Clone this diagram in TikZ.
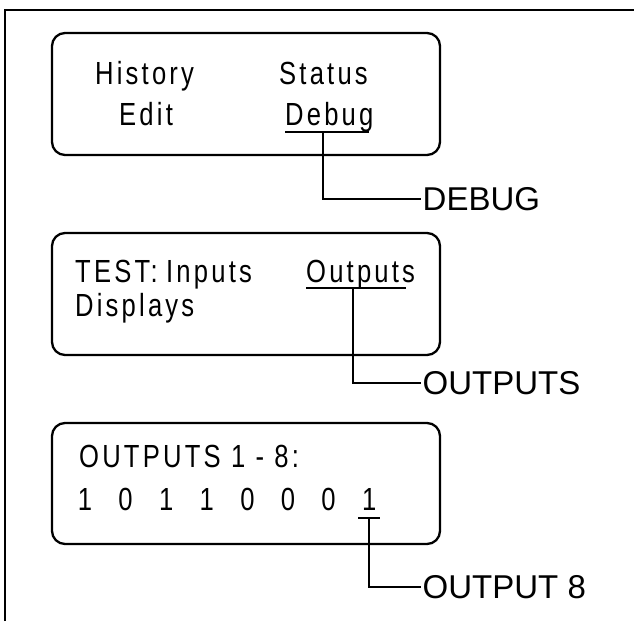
\documentclass[tikz,border=0pt]{standalone}
\usepackage{fontspec}
\setmainfont{Liberation Sans}
\newfontfamily\lcdfont[FakeStretch=0.8,LetterSpace=10]{Liberation Sans}
\begin{document}
\begin{tikzpicture}[x=1pt,y=-1pt,
		lcdbox/.style={draw,line width=2.3pt,rounded corners=13pt},
		lcdtext/.style={anchor=base west,inner sep=0pt,font=\lcdfont\fontsize{32pt}{38pt}\selectfont},
		callout/.style={anchor=west,inner sep=1.5pt,font=\fontsize{33pt}{39pt}\selectfont},
		leader/.style={line width=1.2pt}]
		\useasboundingbox (0,0) rectangle (634,621);
		
		\draw[line width=2.6pt] (5,621) -- (5,10) -- (634,10);
		
		% menu screen
		\draw[lcdbox] (52,33) rectangle (440,155);
		\node[lcdtext] (history) at (95,84) {History};
		\node[lcdtext] (status) at (279,84) {Status};
		\node[lcdtext] (edit) at (119,125) {Edit};
		\node[lcdtext] (debug) at (285,125) {Debug};
		\draw[leader] (285,132) -- (369,132);
		\coordinate (debugtick) at (323,132);
		\node[callout] (debuglabel) at (421,199) {DEBUG};
		\draw[leader] (debugtick) |- (debuglabel.west);
		
		% test screen
		\draw[lcdbox] (52,233) rectangle (440,355);
		\node[lcdtext] (test) at (75,282) {TEST:};
		\node[lcdtext] (inputs) at (166,282) {Inputs};
		\node[lcdtext] (outputs) at (306,282) {Outputs};
		\node[lcdtext] (displays) at (75,316) {Displays};
		\draw[leader] (306,288) -- (406,288);
		\coordinate (outputstick) at (353,288);
		\node[callout] (outputslabel) at (421,383) {OUTPUTS};
		\draw[leader] (outputstick) |- (outputslabel.west);
		
		% output screen
		\draw[lcdbox] (52,423) rectangle (440,544);
		\node[lcdtext] (outhead) at (79,467) {OUTPUTS 1 - 8:};
		\foreach \bit [count=\i] in {1,0,1,1,0,0,0,1}
			\node[lcdtext,anchor=base] (bit\i) at ({85+40.6*(\i-1)},510) {\bit};
		\draw[leader] (358,518) -- (380,518);
		\coordinate (bittick) at (369,518);
		\node[callout] (bitlabel) at (421,587) {OUTPUT 8};
		\draw[leader] (bittick) |- (bitlabel.west);
		
	\end{tikzpicture}
\end{document}
